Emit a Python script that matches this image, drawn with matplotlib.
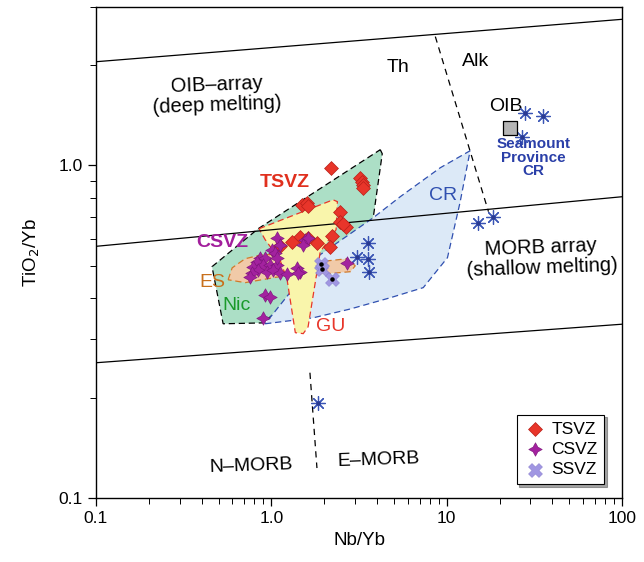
import numpy as np
import matplotlib.pyplot as plt
from matplotlib.patches import Polygon
from matplotlib.ticker import FixedLocator, NullFormatter

plt.rcParams['font.family'] = ['Liberation Sans', 'DejaVu Sans']

# sample groups (Nb/Yb, TiO2/Yb)
tsvz_x = [2.19, 3.21, 3.30, 3.34, 3.34, 1.50, 1.60, 1.62, 2.47, 2.47, 2.67, 2.22,
          2.17, 1.82, 1.46, 1.31, 1.62, 1.12, 2.57]
tsvz_y = [0.984, 0.918, 0.893, 0.875, 0.857, 0.762, 0.772, 0.756, 0.726, 0.677, 0.654,
          0.614, 0.568, 0.585, 0.610, 0.589, 0.606, 0.573, 0.668]

csvz_x = [1.08, 1.12, 1.56, 1.62, 1.52, 1.01, 1.05, 0.863, 0.922, 0.830, 0.898, 0.985,
          1.08, 0.787, 0.841, 0.777, 0.946, 1.02, 1.12, 1.23, 0.757, 1.40, 1.46, 1.42,
          2.71, 0.922, 0.985, 0.898, 1.08]
csvz_y = [0.606, 0.577, 0.598, 0.606, 0.577, 0.558, 0.546, 0.528, 0.528, 0.513, 0.503,
          0.503, 0.503, 0.496, 0.486, 0.476, 0.479, 0.486, 0.476, 0.472, 0.463, 0.492,
          0.479, 0.476, 0.510, 0.408, 0.403, 0.348, 0.528]

ssvz_x = [1.92, 1.95, 2.22]
ssvz_y = [0.506, 0.489, 0.456]

# seamount / CR samples
cr_x = [3.57, 3.09, 3.57, 3.62, 28.1, 35.2, 27.0, 18.4, 15.1, 1.85]
cr_y = [0.585, 0.531, 0.524, 0.479, 1.44, 1.41, 1.22, 0.701, 0.672, 0.193]

oib_x = [23.1]
oib_y = [1.30]

# outlined fields
nic_x = [4.18, 4.29, 3.81, 2.47, 0.898, 0.531, 0.459, 0.841]
nic_y = [1.115, 1.084, 0.696, 0.531, 0.336, 0.334, 0.496, 0.645]

crf_x = [0.922, 1.73, 2.82, 4.77, 7.35, 10.1, 11.9, 13.6, 9.19, 5.43, 3.81, 1.90]
crf_y = [0.334, 0.348, 0.370, 0.400, 0.429, 0.528, 0.772, 1.107, 0.984, 0.805, 0.696, 0.539]

es_x = [0.567, 0.598, 0.709, 0.886, 1.20, 1.85, 2.71, 3.01, 2.82, 1.78, 1.12, 0.709]
es_y = [0.453, 0.492, 0.524, 0.539, 0.539, 0.513, 0.524, 0.499, 0.479, 0.469, 0.463, 0.444]

gu_x = [0.851, 2.25, 2.38, 2.34, 1.90, 1.62, 1.52, 1.37, 1.23, 1.12, 0.922]
gu_y = [0.645, 0.788, 0.778, 0.641, 0.550, 0.327, 0.312, 0.314, 0.453, 0.520, 0.598]

# array boundaries and divides
oib_line = ([0.1, 100], [2.05, 2.75])
morb_top = ([0.1, 100], [0.571, 0.805])
morb_bot = ([0.1, 100], [0.255, 0.333])
th_alk = ([8.61, 17.3], [2.44, 0.726])
nmorb_emorb = ([1.66, 1.82], [0.238, 0.123])

fig = plt.figure(figsize=(6.44, 5.62), dpi=100)
ax = fig.add_axes([0.149, 0.114, 0.817, 0.874])

ax.add_patch(Polygon(np.column_stack([nic_x, nic_y]), closed=True, fc='#acdfc6',
                     ec='black', ls=(0, (5, 3)), lw=0.9, zorder=1))
ax.add_patch(Polygon(np.column_stack([crf_x, crf_y]), closed=True, fc='#dce9f7',
                     ec='#3050b0', ls=(0, (5, 3)), lw=0.9, zorder=1.1))
ax.add_patch(Polygon(np.column_stack([es_x, es_y]), closed=True, fc='#f1caa8',
                     ec='#d07a2a', ls=(0, (5, 3)), lw=0.9, zorder=1.2))
ax.add_patch(Polygon(np.column_stack([gu_x, gu_y]), closed=True, fc='#f9f5ab',
                     ec='#e8362a', ls=(0, (5, 3)), lw=0.9, zorder=1.3))

for xs, ys in [oib_line, morb_top, morb_bot]:
    ax.plot(xs, ys, color='black', lw=0.9, zorder=2)
for xs, ys in [th_alk, nmorb_emorb]:
    ax.plot(xs, ys, color='black', lw=0.9, ls=(0, (5, 4)), zorder=2)

ast = (8, 2, 0)
ax.scatter(cr_x, cr_y, marker=ast, s=100, color='#3a55b5', lw=0.9, zorder=4)
ax.scatter(cr_x, cr_y, marker='o', s=4, color='#2a3a90', zorder=4)
ax.scatter(oib_x, oib_y, marker='s', s=110, color='#b5b5b5', edgecolors='black',
           lw=0.9, zorder=4)

ax.scatter(tsvz_x, tsvz_y, marker='D', s=50, color='#e8352a', edgecolors='#b82018',
           lw=0.5, zorder=5, label='TSVZ')
ax.scatter(csvz_x, csvz_y, marker=(4, 1, 0), s=95, color='#a3229f', edgecolors='#7a1278',
           lw=0.4, zorder=5, label='CSVZ')
ax.scatter(ssvz_x, ssvz_y, marker='X', s=100, color='#a096e2', edgecolors='#8a80d0',
           lw=0.4, zorder=5, label='SSVZ')
ax.scatter(ssvz_x, ssvz_y, marker='o', s=5, color='black', zorder=6)

ax.set_xscale('log')
ax.set_yscale('log')
ax.set_xlim(0.1, 100)
ax.set_ylim(0.1, 3.0)

ax.xaxis.set_major_locator(FixedLocator([0.1, 1, 10, 100]))
ax.set_xticklabels(['0.1', '1.0', '10', '100'])
ax.yaxis.set_major_locator(FixedLocator([0.1, 1]))
ax.set_yticklabels(['0.1', '1.0'])
ax.xaxis.set_minor_formatter(NullFormatter())
ax.yaxis.set_minor_formatter(NullFormatter())
ax.tick_params(which='both', direction='out', top=False, right=False, labelsize=12.5)
ax.tick_params(which='major', length=6, width=0.9)
ax.tick_params(which='minor', length=4, width=0.7)
for s in ax.spines.values():
    s.set_linewidth(1.0)

ax.set_xlabel('Nb/Yb', fontsize=13.5)
ax.set_ylabel('TiO$_2$/Yb', fontsize=13.5, labelpad=12)

ax.text(0.49, 1.63, 'OIB\u2013array\n(deep melting)', fontsize=14.5, ha='center',
        va='center', rotation=2, linespacing=1.1)
ax.text(5.29, 1.97, 'Th', fontsize=14, ha='center', va='center')
ax.text(14.7, 2.05, 'Alk', fontsize=14, ha='center', va='center')
ax.text(21.6, 1.50, 'OIB', fontsize=14, ha='center', va='center')
ax.text(31.2, 1.055, 'Seamount\nProvince\nCR', fontsize=11, fontweight='bold',
        color='#2a3fa8', ha='center', va='center', linespacing=0.95)
ax.text(9.57, 0.81, 'CR', fontsize=14, color='#3050b0', ha='center', va='center')
ax.text(34.7, 0.528, 'MORB array\n(shallow melting)', fontsize=14.5, ha='center',
        va='center', rotation=2, linespacing=1.1)
ax.text(1.20, 0.887, 'TSVZ', fontsize=14, fontweight='bold', color='#e0301e',
        ha='center', va='center')
ax.text(0.524, 0.585, 'CSVZ', fontsize=14, fontweight='bold', color='#a21f9c',
        ha='center', va='center')
ax.text(0.459, 0.444, 'ES', fontsize=14, color='#c8701c', ha='center', va='center')
ax.text(0.630, 0.378, 'Nic', fontsize=14, color='#1a9a2a', ha='center', va='center')
ax.text(2.19, 0.327, 'GU', fontsize=14, color='#e8362a', ha='center', va='center')
ax.text(0.767, 0.125, 'N\u2013MORB', fontsize=14, ha='center', va='center', rotation=2)
ax.text(4.07, 0.130, 'E\u2013MORB', fontsize=14, ha='center', va='center', rotation=2)

leg = ax.legend(loc='lower right', bbox_to_anchor=(0.983, 0.01), fontsize=12.5,
                fancybox=False, shadow=True, edgecolor='black', framealpha=1,
                handletextpad=0.3, borderpad=0.4, labelspacing=0.3, handlelength=1.3)
leg.get_frame().set_linewidth(0.8)

fig.savefig('out.png', dpi=100)
